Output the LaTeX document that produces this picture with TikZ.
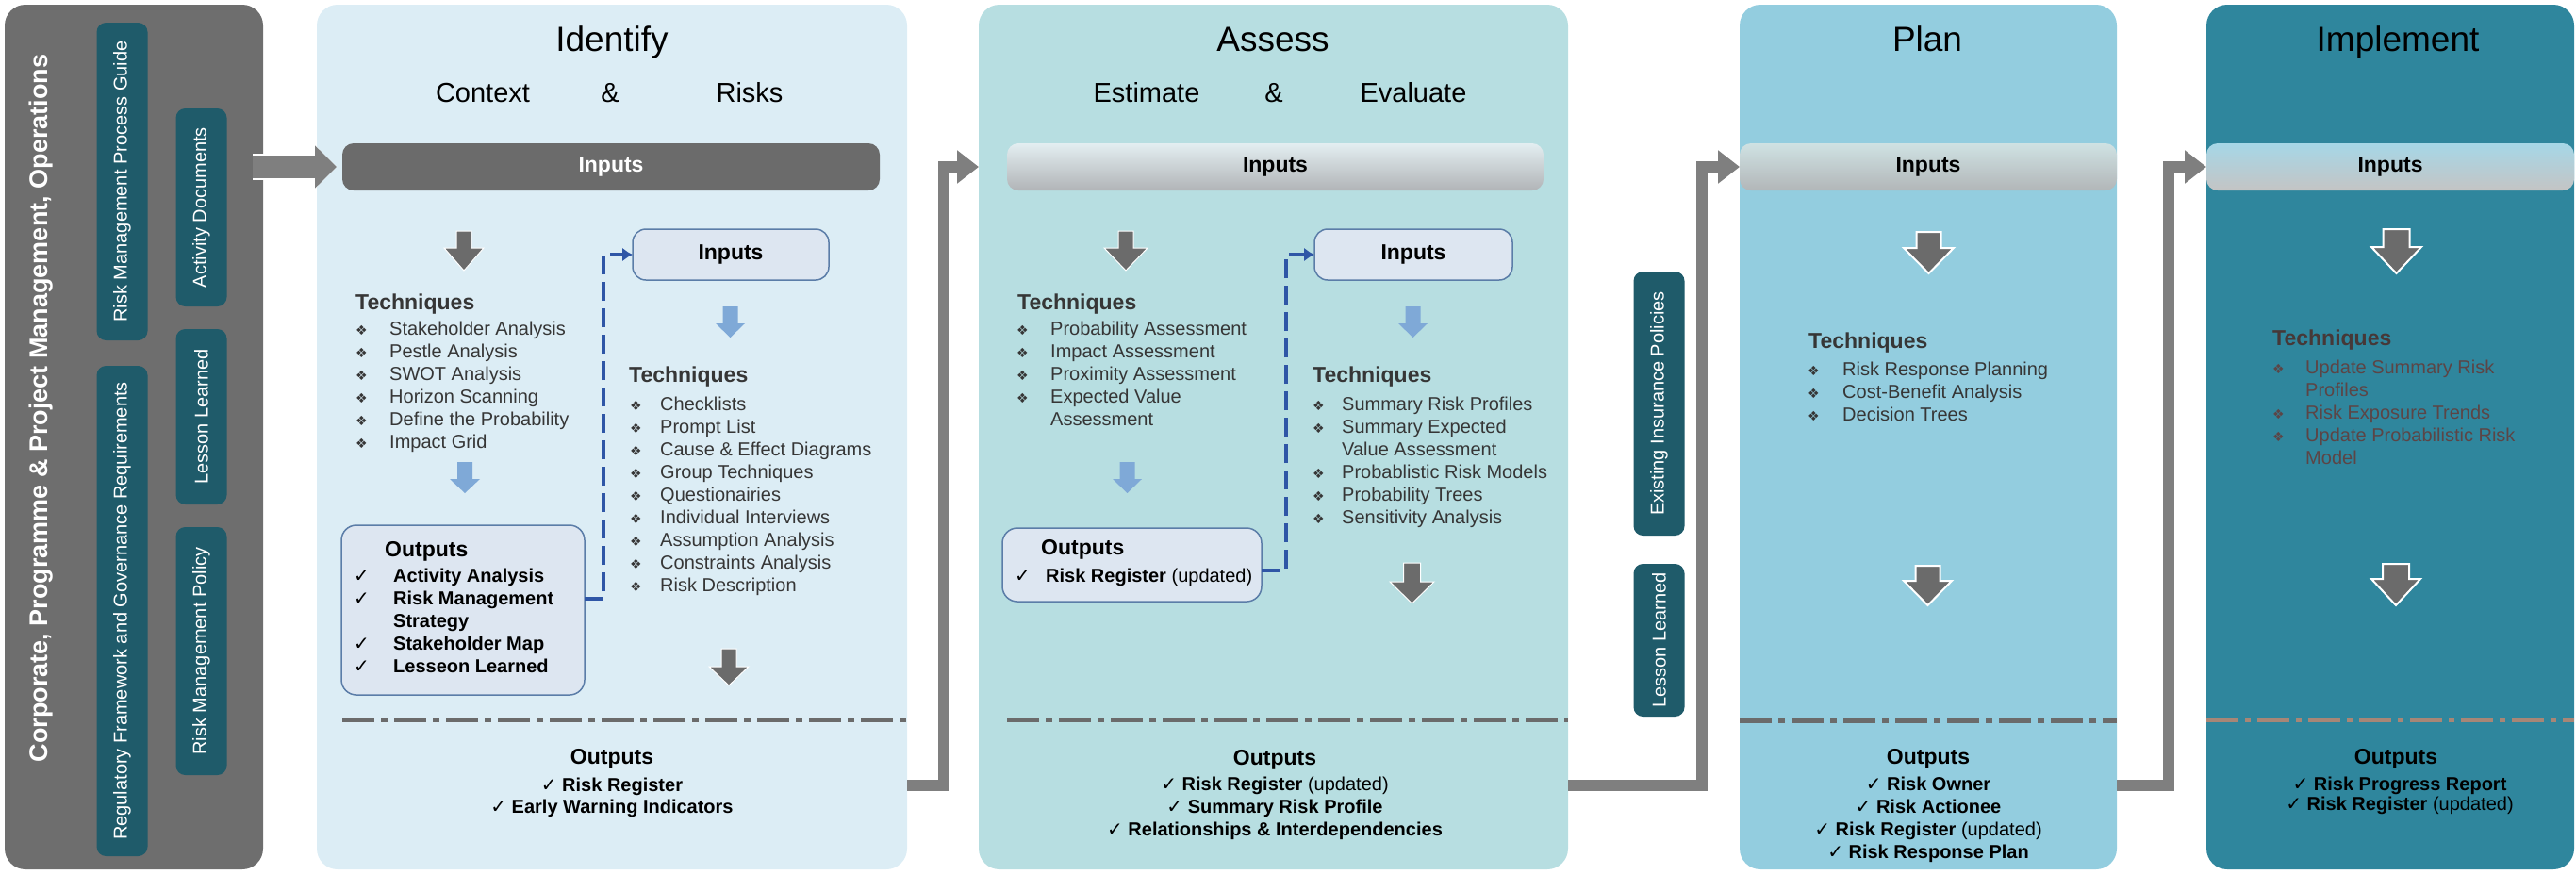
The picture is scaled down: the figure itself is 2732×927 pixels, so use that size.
\documentclass[tikz,border=0pt]{standalone}
\usepackage{fontspec}
\setmainfont{Liberation Sans}
\newfontfamily\symfont{DejaVu Sans}
\usetikzlibrary{arrows.meta}
\usetikzlibrary{positioning}

\definecolor{corpgray}{HTML}{6E6E6E}
\definecolor{tealbox}{HTML}{1F5B6A}
\definecolor{idfill}{HTML}{DCEDF5}
\definecolor{asfill}{HTML}{B7DEE1}
\definecolor{plfill}{HTML}{93CDDF}
\definecolor{imfill}{HTML}{2F869D}
\definecolor{conngray}{HTML}{7F7F7F}
\definecolor{bargray}{HTML}{6B6B6B}
\definecolor{boxfill}{HTML}{DDE6F1}
\definecolor{boxline}{HTML}{5B7DA8}
\definecolor{dashblue}{HTML}{2F56A6}
\definecolor{lightarr}{HTML}{7FA9D7}
\definecolor{itemgray}{HTML}{363636}
\definecolor{imhead}{HTML}{463838}
\definecolor{imtext}{HTML}{5C4546}
\definecolor{imdash}{HTML}{A88676}
\definecolor{asbartop}{HTML}{E3EEF1}
\definecolor{asbarbot}{HTML}{B1B4B7}
\definecolor{plbartop}{HTML}{CFE2E3}
\definecolor{plbarbot}{HTML}{B2B6B8}
\definecolor{imbartop}{HTML}{A6D7E7}
\definecolor{imbarbot}{HTML}{C4C4C4}

\newcommand{\fsz}[1]{\fontsize{#1}{#1}\selectfont}
\newcommand{\dia}{{\symfont\fsz{14}❖}}
\newcommand{\chk}{{\symfont\mdseries ✓}}

\tikzset{
  panel/.style = {rounded corners=22pt, inner sep=0, outer sep=0, minimum height=917pt},
  sidebox/.style = {fill=tealbox, rounded corners=10pt, inner sep=0, outer sep=0,
    minimum height=54pt, rotate=90, text=white, font=\fsz{20}},
  vtitle/.style = {rotate=90, text=white, font=\bfseries\fsz{27}, inner sep=0},
  ttl/.style = {font=\fsz{37}, anchor=base, inner sep=0},
  sub/.style = {font=\fsz{29}, anchor=base, inner sep=0},
  bar/.style = {minimum height=50pt, rounded corners=12pt, inner sep=0, outer sep=0,
    font=\bfseries\fsz{23}},
  inbox/.style = {fill=boxfill, draw=boxline, line width=1.5pt, rounded corners=14pt,
    inner sep=0, outer sep=0, minimum width=208pt, minimum height=54pt, font=\bfseries\fsz{23}},
  outbox/.style = {fill=boxfill, draw=boxline, line width=1.5pt, rounded corners=16pt,
    inner sep=0, outer sep=0},
  head/.style = {font=\bfseries\fsz{23}, text=itemgray, anchor=base west, inner sep=0},
  item/.style = {font=\fsz{20}, text=itemgray, anchor=base west, inner sep=0},
  outl/.style = {font=\bfseries\fsz{20}, anchor=base west, inner sep=0},
  outc/.style = {font=\bfseries\fsz{20}, anchor=base, inner sep=0},
  outhead/.style = {font=\bfseries\fsz{23}, anchor=base, inner sep=0},
  conn/.style = {draw=conngray, line width=12pt, -{Triangle[length=23pt,width=34pt]}},
  dashconn/.style = {draw=dashblue, line width=4pt, dash pattern=on 20pt off 8pt,
    -{Latex[length=11pt,width=15pt]}},
  dashdot/.style = {draw=bargray, line width=5pt, dash pattern=on 34pt off 7pt on 7pt off 7pt},
  pics/darr/.style n args={4}{code={
    \path[pic actions] (-#1/2,0) -- (#1/2,0) -- (#1/2,#3) -- (#2/2,#3) -- (0,#4)
      -- (-#2/2,#3) -- (-#1/2,#3) -- cycle;}}
}

\begin{document}
\begin{tikzpicture}[x=1pt, y=-1pt]
  \useasboundingbox (0,0) rectangle (2732,927);

  % panels
  \node[panel, fill=corpgray, minimum width=274pt] (corp) at (142,463.5) {};
  \node[panel, fill=idfill, minimum width=626pt] (identify) at (649,463.5) {};
  \node[panel, fill=asfill, minimum width=625pt] (assess) at (1350.5,463.5) {};
  \node[panel, fill=plfill, minimum width=400pt] (plan) at (2045,463.5) {};
  \node[panel, fill=imfill, minimum width=390pt] (implement) at (2535,463.5) {};

  % left column
  \node[vtitle] (corptitle) at (44,433) {Corporate, Programme \& Project Management, Operations};
  \node[sidebox, minimum width=337pt] (rmguide) at (129.5,192.5) {Risk Management Process Guide};
  \node[sidebox, minimum width=520pt] (regframe) at (129.5,648) {Regulatory Framework and Governance Requirements};
  \node[sidebox, minimum width=210pt] (actdocs) at (213.5,220) {Activity Documents};
  \node[sidebox, minimum width=186pt] (lesson) at (213.5,442) {Lesson Learned};
  \node[sidebox, minimum width=263pt] (rmpolicy) at (213.5,690.5) {Risk Management Policy};

  % boxes between assess and plan
  \node[sidebox, minimum width=280pt] (insurance) at (1759.5,428) {Existing Insurance Policies};
  \node[sidebox, minimum width=162pt] (lessontwo) at (1759.5,679) {Lesson Learned};

  % titles
  \node[ttl] (idtitle) at (649,54) {Identify};
  \node[sub] (idctx) at (512,108) {Context};
  \node[sub] (idamp) at (647,108) {\&};
  \node[sub] (idrisk) at (795,108) {Risks};
  \node[ttl] (astitle) at (1350,54) {Assess};
  \node[sub] (asest) at (1216,108) {Estimate};
  \node[sub] (asamp) at (1351,108) {\&};
  \node[sub] (aseval) at (1499,108) {Evaluate};
  \node[ttl] (pltitle) at (2044,54) {Plan};
  \node[ttl] (imtitle) at (2543,54) {Implement};

  % input bars
  \node[bar, fill=bargray, text=white, minimum width=570pt] (idInputs) at (648,177) {Inputs};
  \node[bar, top color=asbartop, bottom color=asbarbot, minimum width=569pt] (asInputs) at (1352.5,177) {Inputs};
  \node[bar, top color=plbartop, bottom color=plbarbot, minimum width=400pt] (plInputs) at (2045,177) {Inputs};
  \node[bar, top color=imbartop, bottom color=imbarbot, minimum width=390pt] (imInputs) at (2535,177) {Inputs};

  % feed arrow
  \coordinate (feed) at (268,177);
  \draw[white, line width=28pt, -{Triangle[length=26pt,width=50pt]}] (feed) -- ([xshift=-6pt]idInputs.west);
  \draw[conngray, line width=24pt, -{Triangle[length=23pt,width=44pt]}] (feed) -- ([xshift=-6pt]idInputs.west);

  % stage connectors
  \draw[conn] (identify.east |- 0,833) -- (1001,833) |- (assess.west |- 0,177);
  \draw[conn] (assess.east |- 0,833) -- (1805,833) |- (plan.west |- 0,177);
  \draw[conn] (plan.east |- 0,833) -- (2300,833) |- (implement.west |- 0,177);

  % Identify
  \pic[fill=bargray, draw=white, line width=1pt] at (492,245) {darr={16}{42}{18}{42}};
  \node[head] (idTechL) at (377,328) {Techniques};
  \foreach \lab [count=\i] in {Stakeholder Analysis, Pestle Analysis, SWOT Analysis,
      Horizon Scanning, Define the Probability, Impact Grid}
    \node[item] (idTL\i) at (377,331+24*\i) {\makebox[36pt][l]{\dia}\lab};
  \pic[fill=lightarr] at (493,490) {darr={16}{32}{18}{33}};
  \node[outbox, minimum width=258pt, minimum height=180pt] (idOut) at (491,647) {};
  \node[outhead, anchor=base west] (idOutHead) at (408,590) {Outputs};
  \foreach \mk/\lab [count=\i] in {1/Activity Analysis, 1/Risk Management, 0/Strategy,
      1/Stakeholder Map, 1/Lesseon Learned}
    \node[outl] (idO\i) at (375,593+24*\i) {\makebox[42pt][l]{\ifnum\mk=1 \chk\fi}\lab};
  \node[inbox] (idIn) at (775,270) {Inputs};
  \draw[dashconn] (idOut.east |- 0,635) -- (640,635) |- (idIn.west);
  \pic[fill=lightarr] at (774.5,325) {darr={16}{31}{18}{33}};
  \node[head] (idTechR) at (667,405) {Techniques};
  \foreach \lab [count=\i] in {Checklists, Prompt List, Cause \& Effect Diagrams,
      Group Techniques, Questionairies, Individual Interviews, Assumption Analysis,
      Constraints Analysis, Risk Description}
    \node[item] (idTR\i) at (668,411+24*\i) {\makebox[32pt][l]{\dia}\lab};
  \pic[fill=bargray, draw=white, line width=1pt] at (773,688) {darr={16}{42}{19}{39}};
  \draw[dashdot] (idInputs.west |- 0,763) -- (identify.east |- 0,763);
  \node[outhead] (idResHead) at (649,810) {Outputs};
  \foreach \lab [count=\i] in {Risk Register, Early Warning Indicators}
    \node[outc] (idRes\i) at (649,815.5+23.5*\i) {\chk\ \lab};

  % Assess
  \pic[fill=bargray, draw=white, line width=1pt] at (1194,245) {darr={16}{46}{18}{42}};
  \node[head] (asTechL) at (1079,328) {Techniques};
  \foreach \mk/\lab [count=\i] in {1/Probability Assessment, 1/Impact Assessment,
      1/Proximity Assessment, 1/Expected Value, 0/Assessment}
    \node[item] (asTL\i) at (1078,331+24*\i) {\makebox[36pt][l]{\ifnum\mk=1 \dia\fi}\lab};
  \pic[fill=lightarr] at (1195.5,490) {darr={16}{31}{18}{33}};
  \node[outbox, minimum width=275pt, minimum height=78pt] (asOut) at (1200.5,599) {};
  \node[outhead, anchor=base west] (asOutHead) at (1104,588) {Outputs};
  \node[outl] (asO1) at (1076,617) {\makebox[33pt][l]{\chk}Risk Register {\mdseries(updated)}};
  \node[inbox, minimum width=210pt] (asIn) at (1499,270) {Inputs};
  \draw[dashconn] (asOut.east |- 0,605) -- (1364,605) |- (asIn.west);
  \pic[fill=lightarr] at (1498.5,325) {darr={16}{31}{18}{33}};
  \node[head] (asTechR) at (1392,405) {Techniques};
  \foreach \mk/\lab [count=\i] in {1/Summary Risk Profiles, 1/Summary Expected,
      0/Value Assessment, 1/Probablistic Risk Models, 1/Probability Trees,
      1/Sensitivity Analysis}
    \node[item] (asTR\i) at (1392,411+24*\i) {\makebox[31pt][l]{\ifnum\mk=1 \dia\fi}\lab};
  \pic[fill=bargray, draw=white, line width=1pt] at (1497.5,597) {darr={18}{47}{20}{43}};
  \draw[dashdot] (asInputs.west |- 0,763) -- (assess.east |- 0,763);
  \node[outhead] (asResHead) at (1352,811) {Outputs};
  \foreach \lab [count=\i] in {Risk Register {\mdseries(updated)}, Summary Risk Profile,
      Relationships \& Interdependencies}
    \node[outc] (asRes\i) at (1352,814+24*\i) {\chk\ \lab};

  % Plan
  \pic[fill=bargray, draw=white, line width=2pt] at (2045.5,246) {darr={26}{53}{17}{44}};
  \node[head] (plTech) at (1918,369) {Techniques};
  \foreach \lab [count=\i] in {Risk Response Planning, Cost-Benefit Analysis, Decision Trees}
    \node[item] (plT\i) at (1917,374+24*\i) {\makebox[37pt][l]{\dia}\lab};
  \pic[fill=bargray, draw=white, line width=2pt] at (2044.5,600) {darr={26}{51}{16}{42}};
  \draw[dashdot] (plan.west |- 0,764) -- (plan.east |- 0,764);
  \node[outhead] (plResHead) at (2045,810) {Outputs};
  \foreach \lab [count=\i] in {Risk Owner, Risk Actionee, Risk Register {\mdseries(updated)},
      Risk Response Plan}
    \node[outc] (plRes\i) at (2045,814+24*\i) {\chk\ \lab};

  % Implement
  \pic[fill=bargray, draw=white, line width=2pt] at (2541.5,243) {darr={28}{53}{19}{47}};
  \node[head, text=imhead] (imTech) at (2410,366) {Techniques};
  \foreach \mk/\lab [count=\i] in {1/Update Summary Risk, 0/Profiles, 1/Risk Exposure Trends,
      1/Update Probabilistic Risk, 0/Model}
    \node[item, text=imtext] (imT\i) at (2410,372+24*\i) {\makebox[35pt][l]{\ifnum\mk=1 \dia\fi}\lab};
  \pic[fill=bargray, draw=white, line width=2pt] at (2541,598) {darr={28}{52}{16}{44}};
  \draw[imdash, line width=3.5pt, dash pattern=on 34pt off 7pt on 6pt off 7pt]
    (implement.west |- 0,764) -- (implement.east |- 0,764);
  \node[outhead] (imResHead) at (2541,810) {Outputs};
  \foreach \lab [count=\i] in {Risk Progress Report, Risk Register {\mdseries(updated)}}
    \node[outc] (imRes\i) at (2545,817+21*\i) {\chk\ \lab};
\end{tikzpicture}
\end{document}
